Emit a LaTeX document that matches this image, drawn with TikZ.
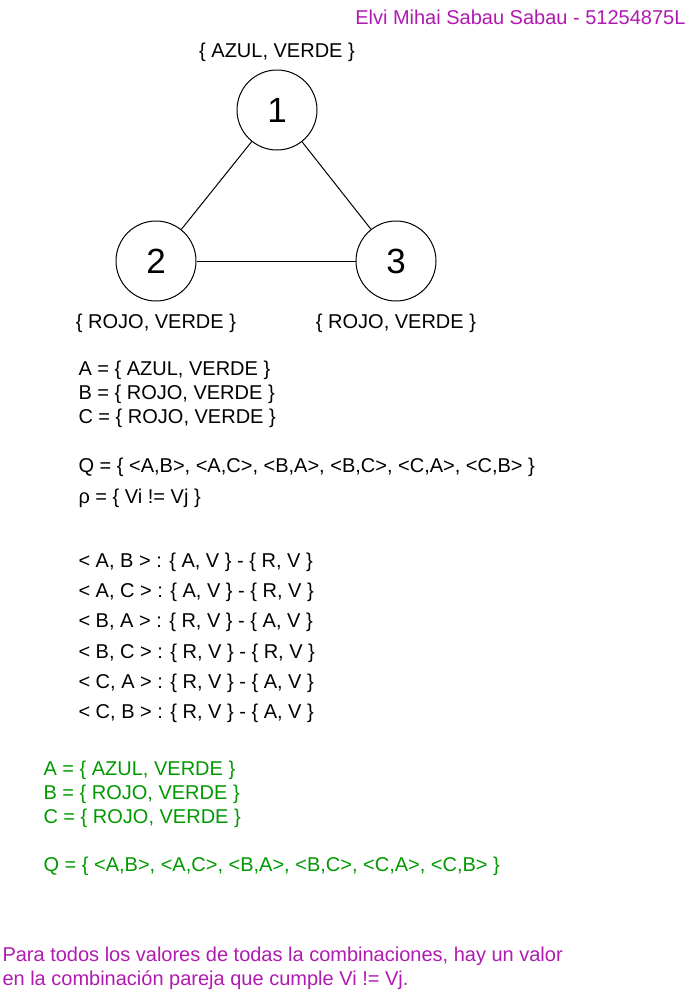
\documentclass[tikz,border=0pt]{standalone}
\usepackage{fontspec}
\setmainfont{Liberation Sans}
\usetikzlibrary{positioning}
\definecolor{lila}{HTML}{B01AB0}
\definecolor{verde}{HTML}{009900}

\begin{document}
\begin{tikzpicture}[x=1pt, y=-1pt, line width=1pt,
		font=\fontsize{20}{24}\selectfont,
		vertice/.style={draw, circle, minimum size=80pt, inner sep=0pt, font=\fontsize{35}{40}\selectfont},
		linea/.style={anchor=west, inner sep=0pt},
		dominio/.style={inner sep=0pt}]
		\useasboundingbox (0,0) rectangle (697,991);
		
		\node[anchor=east, inner sep=0pt, text=lila] (autor) at (686,17) {Elvi Mihai Sabau Sabau - 51254875L};
		
		% grafo
		\node[vertice] (v1) at (277,110) {1};
		\node[vertice] (v2) at (156,261) {2};
		\node[vertice] (v3) at (396,261) {3};
		
		\node[dominio] (d1) [above=7pt of v1] {\{ AZUL, VERDE \}};
		\node[dominio] (d2) [below=12pt of v2] {\{ ROJO, VERDE \}};
		\node[dominio] (d3) [below=12pt of v3] {\{ ROJO, VERDE \}};
		
		\draw (v1) -- (v2);
		\draw (v1) -- (v3);
		\draw (v2) -- (v3);
		
		% variables y restricciones
		\node[linea] (A) at (78,370) {A = \{ AZUL, VERDE \}};
		\node[linea] (B) at (78,394) {B = \{ ROJO, VERDE \}};
		\node[linea] (C) at (78,418) {C = \{ ROJO, VERDE \}};
		\node[linea] (Q) at (78,467) {Q = \{ <A,B>, <A,C>, <B,A>, <B,C>, <C,A>, <C,B> \}};
		\node[linea] (rho) at (78,498) {ρ = \{ Vi != Vj \}};
		
		\node[linea] (AB) at (78,562) {< A, B > : \{ A, V \} - \{ R, V \}};
		\node[linea] (AC) at (78,592) {< A, C > : \{ A, V \} - \{ R, V \}};
		\node[linea] (BA) at (78,622) {< B, A > : \{ R, V \} - \{ A, V \}};
		\node[linea] (BC) at (78,653) {< B, C > : \{ R, V \} - \{ R, V \}};
		\node[linea] (CA) at (78,683) {< C, A > : \{ R, V \} - \{ A, V \}};
		\node[linea] (CB) at (78,713) {< C, B > : \{ R, V \} - \{ A, V \}};
		
		% resultado
		\node[linea, text=verde] (A2) at (43,770) {A = \{ AZUL, VERDE \}};
		\node[linea, text=verde] (B2) at (43,794) {B = \{ ROJO, VERDE \}};
		\node[linea, text=verde] (C2) at (43,818) {C = \{ ROJO, VERDE \}};
		\node[linea, text=verde] (Q2) at (43,866) {Q = \{ <A,B>, <A,C>, <B,A>, <B,C>, <C,A>, <C,B> \}};
		
		\node[linea, text=lila] (conc1) at (2,956) {Para todos los valores de todas la combinaciones, hay un valor};
		\node[linea, text=lila] (conc2) at (2,980) {en la combinación pareja que cumple Vi != Vj.};
	\end{tikzpicture}
\end{document}
